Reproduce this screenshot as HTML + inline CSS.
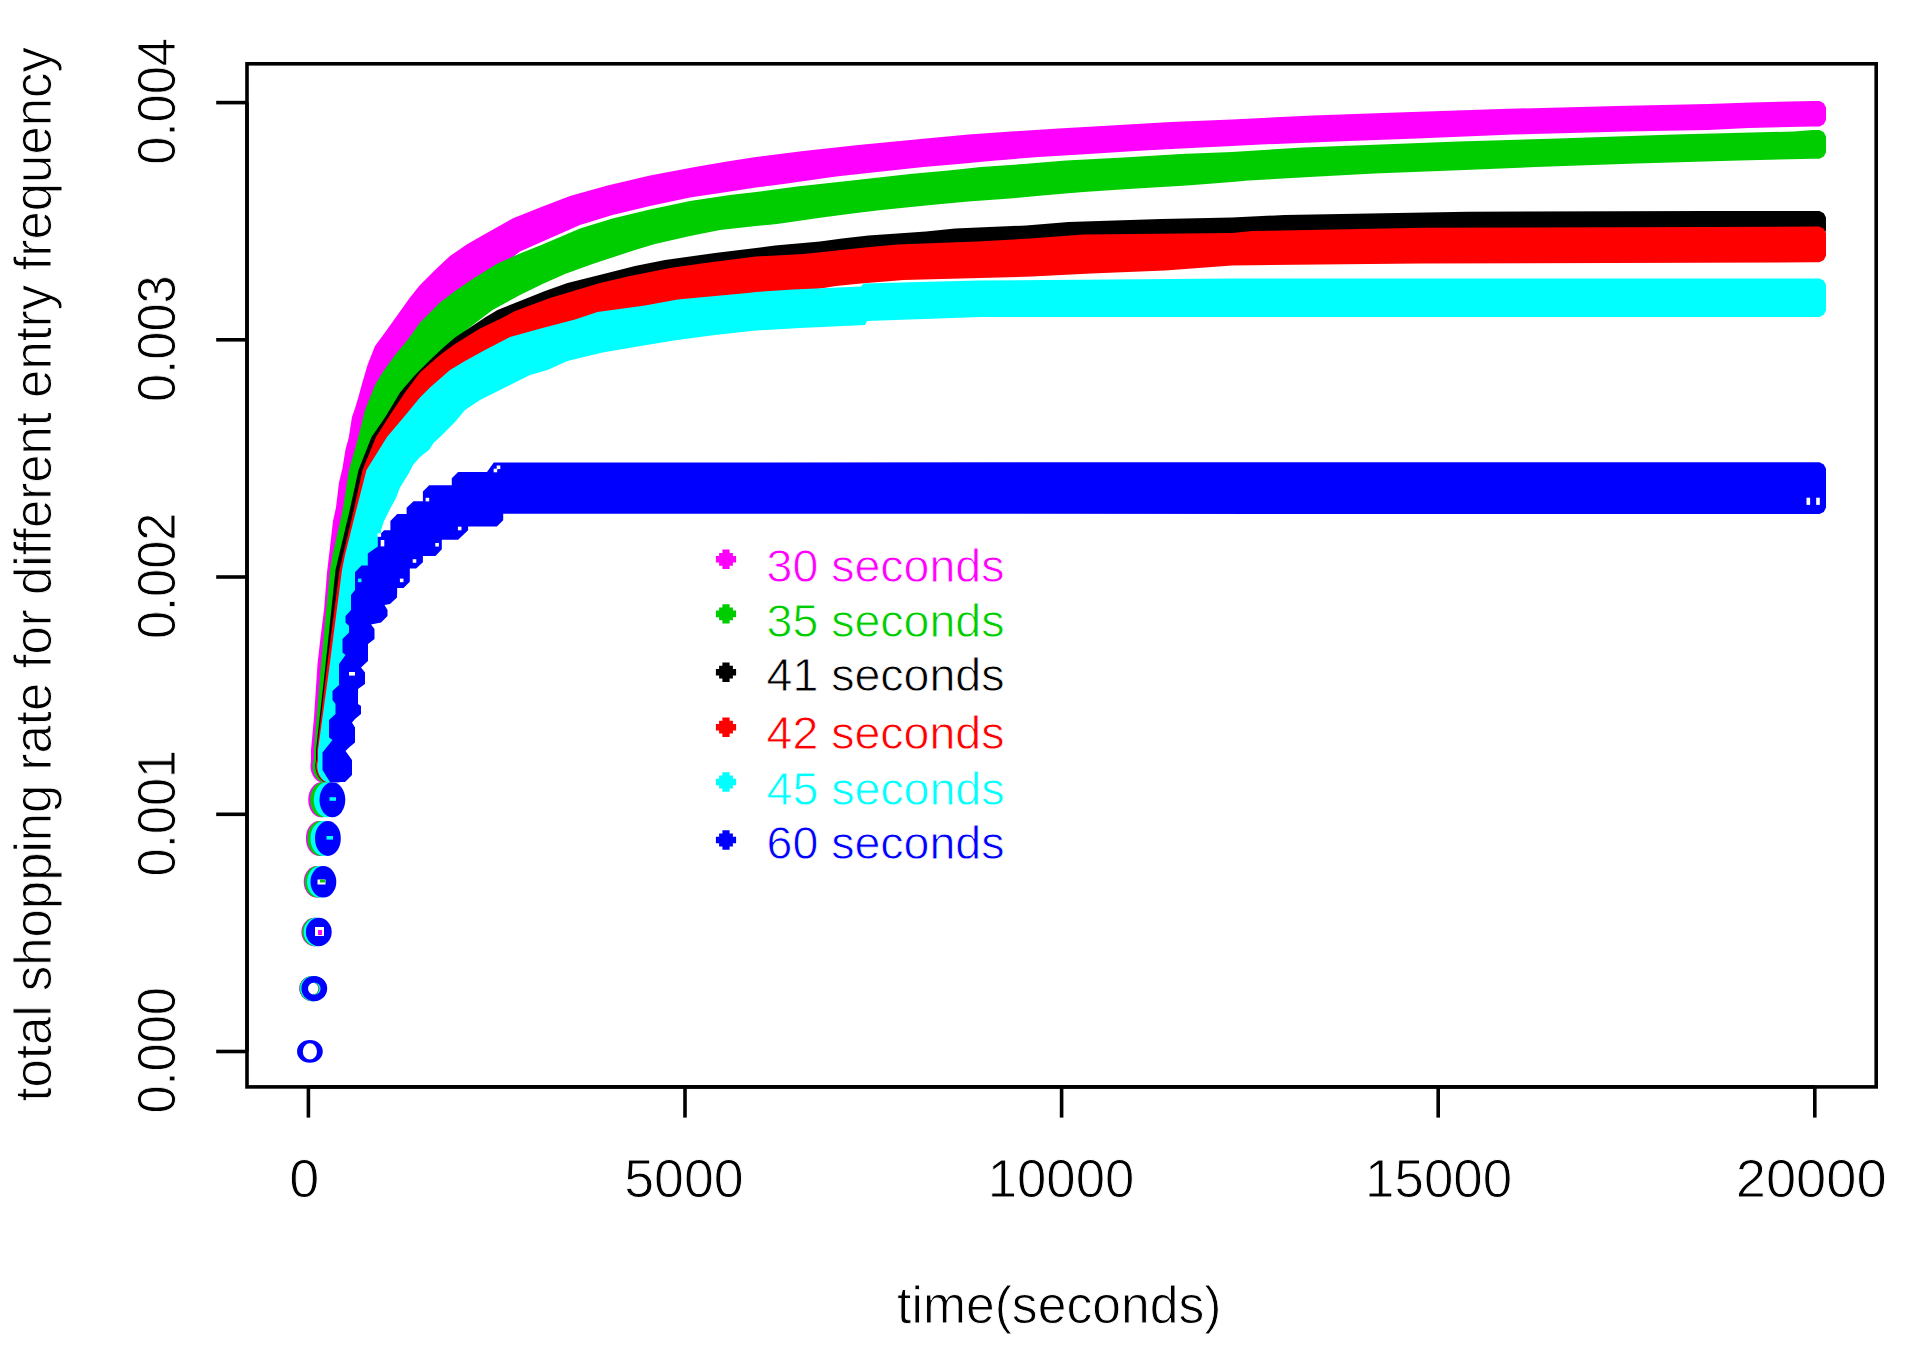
<!DOCTYPE html>
<html lang="en"><head><meta charset="utf-8"><title>total shopping rate for different entry frequency</title>
<style>html,body{margin:0;padding:0;background:#fff}body{width:1905px;height:1348px;overflow:hidden}svg{display:block}</style></head>
<body>
<svg width="1905" height="1348" viewBox="0 0 1905 1348">
<rect width="1905" height="1348" fill="#fff"/>
<g id="series">
<polygon fill="#FF00FF" points="311.0,770.0 311.0,750.0 314.0,717.5 317.5,664.0 320.5,637.5 324.0,610.0 327.0,572.5 330.0,547.0 333.0,521.0 336.0,507.5 339.0,482.5 342.5,468.0 345.5,449.5 348.8,437.5 350.4,427.0 352.0,417.0 355.1,408.0 358.3,397.5 361.4,386.0 367.5,365.0 375.0,346.0 385.0,332.5 397.5,315.0 410.0,297.5 420.0,285.0 435.0,270.0 450.0,256.0 467.5,244.0 485.0,234.0 512.5,218.5 540.0,207.5 570.0,196.0 607.5,185.5 650.0,175.5 695.0,167.0 730.0,161.0 756.0,157.0 803.5,151.0 858.5,145.0 926.0,138.5 968.5,134.5 1011.0,131.5 1058.5,128.5 1111.0,125.5 1171.0,122.0 1232.0,119.5 1313.0,115.5 1397.0,112.5 1501.0,109.0 1617.0,106.0 1708.0,104.0 1751.0,102.5 1813.0,101.0 1819.5,101.0 1823.8,103.2 1826.0,107.5 1826.0,119.9 1823.8,124.2 1819.5,126.4 1813.0,126.4 1748.5,128.0 1708.0,130.0 1626.0,131.5 1513.0,134.5 1417.0,138.5 1336.0,141.5 1261.0,144.5 1232.0,146.0 1201.0,147.5 1143.5,150.5 1088.5,154.0 1038.5,157.0 996.0,160.5 958.5,164.0 923.5,167.0 891.0,170.5 836.0,176.5 783.5,184.0 756.0,187.5 730.0,191.5 690.0,197.5 650.0,206.0 612.5,215.0 580.0,225.0 542.5,241.5 520.0,251.5 500.5,266.5 475.5,282.0 458.0,294.0 443.0,305.5 423.0,325.5 410.5,343.0 398.0,358.0 385.5,375.5 378.0,388.0 368.0,413.0 361.3,440.0 352.0,473.0 345.5,514.0 335.5,558.0 333.0,573.0 323.5,673.0 317.0,753.0 317.0,773.0"/>
<ellipse cx="312.1" cy="988.6" rx="9.6" ry="9.4" fill="none" stroke="#FF00FF" stroke-width="6.6"/><ellipse cx="314.3" cy="932.0" rx="12.9" ry="14.2" fill="#FF00FF"/><ellipse cx="316.6" cy="881.8" rx="12.9" ry="15.8" fill="#FF00FF"/><ellipse cx="318.8" cy="838.4" rx="12.9" ry="17.5" fill="#FF00FF"/><ellipse cx="321.1" cy="799.8" rx="12.9" ry="17.5" fill="#FF00FF"/><ellipse cx="323.4" cy="766.0" rx="12.9" ry="16.5" fill="#FF00FF"/>
<polygon fill="#00CD00" points="314.0,770.0 314.0,750.0 320.5,670.0 330.0,570.0 332.5,555.0 342.5,511.0 349.0,470.0 358.3,437.0 365.0,410.0 375.0,385.0 382.5,372.5 395.0,355.0 407.5,340.0 420.0,322.5 440.0,302.5 455.0,291.0 472.5,279.0 497.5,263.5 520.0,253.5 542.5,244.5 580.0,228.5 612.5,218.5 650.0,209.5 690.0,201.0 730.0,195.0 756.0,192.0 797.0,186.5 852.0,180.5 910.0,174.0 948.5,170.5 981.0,167.0 1023.5,164.0 1066.0,160.5 1123.5,157.5 1181.0,154.0 1232.0,152.0 1303.0,147.5 1381.0,144.5 1458.0,141.5 1558.0,138.5 1674.5,134.5 1794.0,131.5 1813.0,130.0 1819.5,130.0 1823.8,132.2 1826.0,136.5 1826.0,152.3 1823.8,156.6 1819.5,158.8 1813.0,158.8 1739.0,160.5 1636.0,163.5 1536.0,167.0 1452.0,170.5 1374.5,173.5 1309.5,177.0 1248.0,180.5 1232.0,182.0 1187.0,185.5 1128.5,189.0 1083.5,192.0 1042.0,195.5 1010.0,198.5 968.5,201.5 936.0,204.5 906.0,207.5 877.0,210.5 848.5,214.0 822.0,217.5 777.0,224.0 756.0,226.0 720.0,230.0 690.0,236.0 655.0,244.0 635.0,250.0 592.5,264.0 565.0,274.0 542.5,284.0 520.0,295.0 492.5,310.0 465.0,331.0 458.0,340.5 448.0,349.0 433.0,363.0 418.0,378.0 403.0,395.5 388.0,420.5 374.5,440.0 361.5,473.0 352.5,514.0 342.0,558.0 338.5,573.0 328.0,673.0 319.0,753.0 319.0,773.0"/>
<ellipse cx="312.4" cy="988.6" rx="9.6" ry="9.4" fill="none" stroke="#00CD00" stroke-width="6.6"/><ellipse cx="315.1" cy="932.0" rx="12.9" ry="14.2" fill="#00CD00"/><ellipse cx="317.7" cy="881.8" rx="12.9" ry="15.8" fill="#00CD00"/><ellipse cx="320.3" cy="838.4" rx="12.9" ry="17.5" fill="#00CD00"/><ellipse cx="323.0" cy="799.8" rx="12.9" ry="17.5" fill="#00CD00"/><ellipse cx="325.6" cy="766.0" rx="12.9" ry="16.5" fill="#00CD00"/>
<polygon fill="#000000" points="316.0,770.0 316.0,750.0 325.0,670.0 335.5,570.0 339.0,555.0 349.5,511.0 358.5,470.0 371.5,437.0 385.0,417.5 400.0,392.5 415.0,375.0 430.0,360.0 445.0,346.0 455.0,337.5 470.0,327.5 485.0,317.5 497.5,310.0 525.0,299.0 545.0,291.0 567.5,283.0 607.5,273.0 635.0,266.0 665.0,260.0 715.0,253.0 756.0,248.0 775.0,245.5 820.0,241.5 842.0,238.5 868.5,235.5 926.0,231.5 955.0,228.5 1026.0,225.5 1068.5,222.0 1161.0,219.0 1232.0,217.5 1284.5,215.0 1468.0,211.8 1708.0,211.0 1813.0,211.0 1819.5,211.0 1823.8,213.2 1826.0,217.5 1826.0,230.5 1823.8,234.8 1819.5,237.0 1816.0,229.5 1711.0,230.0 1426.0,230.8 1255.0,234.0 1235.0,236.0 1086.5,237.5 1033.0,241.5 980.0,244.5 900.0,247.5 868.0,250.5 835.0,254.0 806.5,257.0 759.0,259.5 708.0,266.0 673.0,271.0 633.0,279.0 603.0,286.0 553.0,301.0 518.0,314.0 503.0,322.0 483.0,331.5 458.0,347.0 443.0,358.0 423.0,375.5 408.0,395.5 393.0,418.0 379.0,440.0 365.5,473.0 356.5,514.0 346.0,558.0 342.5,573.0 329.5,673.0 320.0,753.0 320.0,773.0"/>
<ellipse cx="328.3" cy="766.0" rx="12.9" ry="16.5" fill="#000000"/>
<polygon fill="#FF0000" points="317.0,770.0 317.0,750.0 326.5,670.0 339.5,570.0 343.0,555.0 353.5,511.0 362.5,470.0 376.0,437.0 390.0,415.0 405.0,392.5 420.0,372.5 440.0,355.0 455.0,344.0 480.0,328.5 500.0,319.0 515.0,311.0 550.0,298.0 600.0,283.0 630.0,276.0 670.0,268.0 705.0,263.0 756.0,256.5 803.5,254.0 832.0,251.0 865.0,247.5 897.0,244.5 977.0,241.5 1030.0,238.5 1083.5,234.5 1232.0,233.0 1252.0,231.0 1423.0,227.8 1708.0,227.0 1813.0,226.5 1819.5,226.5 1823.8,228.8 1826.0,233.0 1826.0,255.8 1823.8,260.1 1819.5,262.3 1813.0,262.3 1419.5,263.5 1232.0,265.5 1165.0,270.5 1091.0,273.5 1032.0,276.5 903.5,280.0 861.0,283.5 836.0,286.0 796.5,292.5 759.0,295.0 750.5,296.0 680.5,302.5 648.0,308.5 600.5,315.0 578.0,322.5 545.5,331.0 513.0,340.0 488.0,353.0 468.0,364.0 453.0,373.0 433.0,390.5 423.0,400.5 406.5,420.5 390.0,440.0 369.5,473.0 359.0,514.0 348.0,558.0 345.0,573.0 332.0,673.0 321.0,753.0 321.0,773.0"/>
<ellipse cx="328.8" cy="766.0" rx="12.9" ry="16.5" fill="#FF0000"/>
<polygon fill="#00FFFF" points="318.0,770.0 318.0,750.0 329.0,670.0 342.0,570.0 345.0,555.0 356.0,511.0 366.5,470.0 387.0,437.0 403.5,417.5 420.0,397.5 430.0,387.5 450.0,370.0 465.0,361.0 485.0,350.0 510.0,337.0 542.5,328.0 575.0,319.5 597.5,312.0 645.0,305.5 677.5,299.5 747.5,293.0 756.0,292.0 793.5,289.5 861.0,286.5 863.5,283.5 978.5,280.5 1232.0,278.5 1813.0,278.4 1819.5,278.4 1823.8,280.6 1826.0,284.9 1826.0,310.5 1823.8,314.8 1819.5,317.0 1813.0,317.0 981.0,317.0 867.0,321.0 865.0,325.0 800.0,328.0 756.0,330.5 715.0,335.0 677.5,340.0 652.5,344.0 602.5,352.5 567.5,361.0 547.5,370.0 530.0,375.0 505.0,387.5 480.0,400.0 465.0,410.0 455.0,422.0 440.0,437.0 433.5,443.0 429.0,450.0 420.0,457.0 413.0,465.0 409.0,473.0 400.0,487.5 396.0,498.0 390.0,509.0 384.0,521.0 381.0,530.0 380.8,539.6 380.8,549.6 370.8,556.4 370.8,568.5 364.5,568.5 358.0,575.3 358.0,593.0 354.0,598.0 354.0,613.0 348.5,619.0 348.5,625.5 352.0,629.0 352.0,635.5 345.5,642.0 345.5,655.5 348.5,658.0 342.0,667.0 342.0,688.0 335.5,694.0 335.5,703.0 338.5,707.0 338.5,717.0 332.0,723.0 332.0,740.5 335.5,743.0 325.5,755.5 325.5,773.0"/>
<ellipse cx="313.2" cy="988.6" rx="9.6" ry="9.4" fill="none" stroke="#00FFFF" stroke-width="6.6"/><ellipse cx="316.6" cy="932.0" rx="12.9" ry="14.2" fill="#00FFFF"/><ellipse cx="320.0" cy="881.8" rx="12.9" ry="15.8" fill="#00FFFF"/><ellipse cx="323.4" cy="838.4" rx="12.9" ry="17.5" fill="#00FFFF"/><ellipse cx="326.7" cy="799.8" rx="12.9" ry="17.5" fill="#00FFFF"/><ellipse cx="330.1" cy="766.0" rx="12.9" ry="16.5" fill="#00FFFF"/>
<polygon fill="#0000FF" points="322.5,770.0 322.5,752.5 332.5,740.0 329.0,737.5 329.0,720.0 335.5,714.0 335.5,704.0 332.5,700.0 332.5,691.0 339.0,685.0 339.0,664.0 345.5,655.0 342.5,652.5 342.5,639.0 349.0,632.5 349.0,626.0 345.5,622.5 345.5,616.0 351.0,610.0 351.0,595.0 355.0,590.0 355.0,572.3 361.5,565.5 367.8,565.5 367.8,553.4 377.8,546.6 377.8,536.6 384.1,530.3 390.4,530.3 390.4,520.9 397.2,514.0 406.6,514.0 406.6,507.7 413.5,501.2 422.9,501.2 422.9,491.5 429.2,485.2 451.8,485.2 451.8,478.3 458.1,472.0 487.0,472.0 493.8,462.4 1813.0,462.3 1819.5,462.3 1823.8,464.6 1826.0,468.8 1826.0,507.6 1823.8,511.9 1819.5,514.1 1813.0,514.1 503.2,513.7 503.2,520.3 496.9,526.6 468.1,526.6 468.1,530.3 458.1,539.8 441.8,539.8 441.8,549.2 435.5,556.0 422.9,556.0 422.9,562.3 416.1,568.6 409.8,568.6 409.8,581.8 403.5,588.0 397.2,588.0 397.0,597.5 390.0,604.0 384.5,605.0 387.5,610.0 387.5,616.0 381.0,622.5 371.0,624.5 374.5,629.0 374.5,639.0 368.0,644.0 368.0,661.0 361.0,667.5 365.0,672.5 365.0,684.0 358.0,689.0 358.0,704.0 361.0,706.0 361.0,714.0 355.0,719.0 352.0,722.5 355.0,727.5 355.0,742.5 349.0,747.5 345.5,751.0 352.0,760.0 352.0,775.0 345.0,782.0 330.0,782.0"/>
<ellipse cx="314.3" cy="988.6" rx="9.6" ry="9.4" fill="none" stroke="#0000FF" stroke-width="6.6"/><ellipse cx="318.8" cy="932.0" rx="12.9" ry="14.2" fill="#0000FF"/><ellipse cx="323.4" cy="881.8" rx="12.9" ry="15.8" fill="#0000FF"/><ellipse cx="327.9" cy="838.4" rx="12.9" ry="17.5" fill="#0000FF"/><ellipse cx="332.4" cy="799.8" rx="12.9" ry="17.5" fill="#0000FF"/><ellipse cx="336.9" cy="766.0" rx="12.9" ry="16.5" fill="#0000FF"/>
<path fill="#0000FF" fill-rule="evenodd" d="M297.05 1051.40a12.85 11.35 0 1 0 25.7 0a12.85 11.35 0 1 0-25.7 0zM302.80 1051.40a7.1 8.15 0 1 0 14.2 0a7.1 8.15 0 1 0-14.2 0z"/>
</g>
<rect x="1806.5" y="497.7" width="3.6" height="7.2" fill="#fff"/>
<rect x="1816.2" y="497.7" width="3.6" height="7.2" fill="#fff"/>
<rect x="496.7" y="465.5" width="3.6" height="3.6" fill="#fff"/>
<rect x="493.6" y="468.7" width="3.6" height="3.6" fill="#fff"/>
<rect x="425.6" y="497.8" width="3.6" height="3.6" fill="#fff"/>
<rect x="380.7" y="540" width="3.6" height="6.4" fill="#fff"/>
<rect x="457.9" y="526.7" width="3.6" height="3.6" fill="#fff"/>
<rect x="435.3" y="543" width="3.6" height="3.6" fill="#fff"/>
<rect x="412.7" y="559.2" width="3.6" height="3.6" fill="#fff"/>
<rect x="399.9" y="578.6" width="3.6" height="3.6" fill="#fff"/>
<rect x="349" y="672" width="6" height="3.6" fill="#fff"/>
<rect x="377.5" y="533.2" width="3.6" height="3.6" fill="#fff"/>
<rect x="326.5" y="836" width="6.5" height="3.6" fill="#00FFFF"/>
<rect x="329.5" y="797.2" width="6.5" height="3.6" fill="#00FFFF"/>
<rect x="317.5" y="879.5" width="8" height="5" fill="#fff"/>
<rect x="320" y="879.5" width="5" height="3" fill="#00CD00"/>
<rect x="315" y="927" width="9" height="9" fill="#fff"/>
<rect x="318" y="930" width="4" height="5" fill="#FF00FF"/>
<rect x="357.9" y="578.6" width="3.6" height="3.6" fill="#00FFFF"/>
<g stroke="#000" stroke-width="3.6" fill="none" stroke-linecap="butt">
<rect x="247.0" y="63.8" width="1629.2" height="1023.1000000000001"/>
<path d="M308.4 1086.9H1814.8"/>
<path d="M308.4 1086.9V1117.6"/>
<path d="M685.0 1086.9V1117.6"/>
<path d="M1061.6 1086.9V1117.6"/>
<path d="M1438.2 1086.9V1117.6"/>
<path d="M1814.8 1086.9V1117.6"/>
<path d="M247.0 1051.5V102.6"/>
<path d="M247.0 1051.5H216.2"/>
<path d="M247.0 814.3H216.2"/>
<path d="M247.0 577.0H216.2"/>
<path d="M247.0 339.8H216.2"/>
<path d="M247.0 102.6H216.2"/>
</g>
<g font-family="'Liberation Sans', Arial, sans-serif" font-size="51" fill="#000" text-anchor="middle" stroke="#fff" stroke-width="0.9">
<text x="304.3" y="1197.4" font-size="53.5" textLength="30" lengthAdjust="spacingAndGlyphs">0</text>
<text x="684" y="1197.4" font-size="53.5" textLength="119.5" lengthAdjust="spacingAndGlyphs">5000</text>
<text x="1061" y="1197.4" font-size="53.5" textLength="146.5" lengthAdjust="spacingAndGlyphs">10000</text>
<text x="1438.6" y="1197.4" font-size="53.5" textLength="147" lengthAdjust="spacingAndGlyphs">15000</text>
<text x="1811.2" y="1197.4" font-size="53.5" textLength="150.8" lengthAdjust="spacingAndGlyphs">20000</text>
<text x="1059.3" y="1323.2" textLength="324.5" lengthAdjust="spacingAndGlyphs">time(seconds)</text>
<text transform="translate(174.6 1050.3) rotate(-90)" font-size="53.5" textLength="126.6" lengthAdjust="spacingAndGlyphs">0.000</text>
<text transform="translate(174.6 813.1) rotate(-90)" font-size="53.5" textLength="126.6" lengthAdjust="spacingAndGlyphs">0.001</text>
<text transform="translate(174.6 575.8) rotate(-90)" font-size="53.5" textLength="126.6" lengthAdjust="spacingAndGlyphs">0.002</text>
<text transform="translate(174.6 338.6) rotate(-90)" font-size="53.5" textLength="126.6" lengthAdjust="spacingAndGlyphs">0.003</text>
<text transform="translate(174.6 101.4) rotate(-90)" font-size="53.5" textLength="126.6" lengthAdjust="spacingAndGlyphs">0.004</text>
<text transform="translate(51.3 574.3) rotate(-90)" textLength="1054.5" lengthAdjust="spacingAndGlyphs">total shopping rate for different entry frequency</text>
</g>
<g font-family="'Liberation Sans', Arial, sans-serif" font-size="45.8" stroke="#fff" stroke-width="0.8">
<path stroke="none" fill="#FF00FF" d="M722.4 549.6h7.2v3.3h3.3v3.1h3.2v6.6h-3.2v3.1h-3.3v3.3h-7.2v-3.3h-3.3v-3.1h-3.2v-6.6h3.2v-3.1h3.3z"/>
<text x="766.6" y="581.6999999999999" fill="#FF00FF" textLength="237.8" lengthAdjust="spacingAndGlyphs">30 seconds</text>
<path stroke="none" fill="#00CD00" d="M722.4 604.2h7.2v3.3h3.3v3.1h3.2v6.6h-3.2v3.1h-3.3v3.3h-7.2v-3.3h-3.3v-3.1h-3.2v-6.6h3.2v-3.1h3.3z"/>
<text x="766.6" y="636.6" fill="#00CD00" textLength="237.8" lengthAdjust="spacingAndGlyphs">35 seconds</text>
<path stroke="none" fill="#000000" d="M722.4 662.5h7.2v3.3h3.3v3.1h3.2v6.6h-3.2v3.1h-3.3v3.3h-7.2v-3.3h-3.3v-3.1h-3.2v-6.6h3.2v-3.1h3.3z"/>
<text x="766.6" y="691.4" fill="#000000" textLength="237.8" lengthAdjust="spacingAndGlyphs">41 seconds</text>
<path stroke="none" fill="#FF0000" d="M722.4 717.5h7.2v3.3h3.3v3.1h3.2v6.6h-3.2v3.1h-3.3v3.3h-7.2v-3.3h-3.3v-3.1h-3.2v-6.6h3.2v-3.1h3.3z"/>
<text x="766.6" y="749.1" fill="#FF0000" textLength="237.8" lengthAdjust="spacingAndGlyphs">42 seconds</text>
<path stroke="none" fill="#00FFFF" d="M722.4 772.3h7.2v3.3h3.3v3.1h3.2v6.6h-3.2v3.1h-3.3v3.3h-7.2v-3.3h-3.3v-3.1h-3.2v-6.6h3.2v-3.1h3.3z"/>
<text x="766.6" y="804.5" fill="#00FFFF" textLength="237.8" lengthAdjust="spacingAndGlyphs">45 seconds</text>
<path stroke="none" fill="#0000FF" d="M722.4 830.3h7.2v3.3h3.3v3.1h3.2v6.6h-3.2v3.1h-3.3v3.3h-7.2v-3.3h-3.3v-3.1h-3.2v-6.6h3.2v-3.1h3.3z"/>
<text x="766.6" y="859.1" fill="#0000FF" textLength="237.8" lengthAdjust="spacingAndGlyphs">60 seconds</text>
</g>
</svg>
</body></html>
